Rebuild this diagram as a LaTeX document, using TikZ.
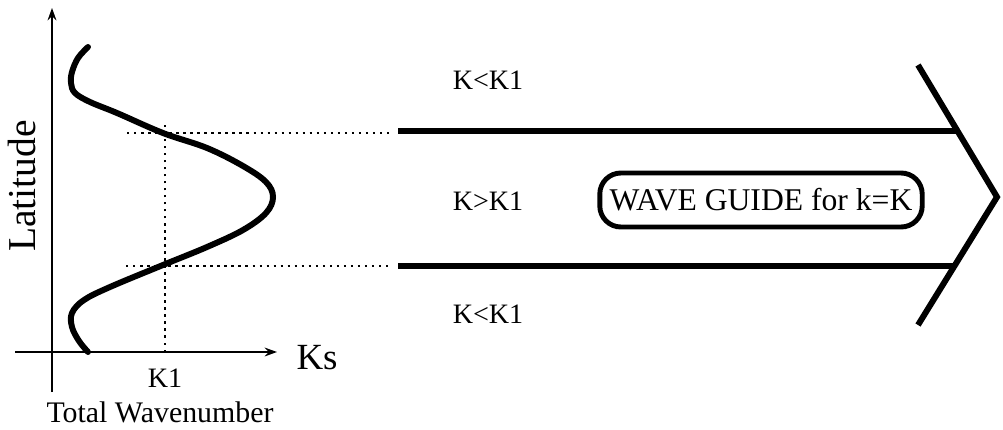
\documentclass[tikz,border=0pt]{standalone}
\usepackage{fontspec}
\setmainfont{Liberation Serif}
\usetikzlibrary{arrows.meta}

\begin{document}
\begin{tikzpicture}[x=0.02cm, y=-0.02cm,
        axis/.style={line width=1.1pt, -{Stealth[length=7pt, width=5pt]}},
        dotline/.style={line width=1.4pt, dash pattern=on 1.4pt off 2.6pt},
        wall/.style={line width=3.4pt},
        lbl/.style={inner sep=0pt, font=\fontsize{16}{19}\selectfont},
        guidebox/.style={draw, line width=2.8pt, rounded corners=12pt, minimum width=6.45cm, minimum height=1.08cm, inner sep=2pt, font=\fontsize{18}{21}\selectfont}]
      \useasboundingbox (0,0) rectangle (1003,429);
      % Axes
      \coordinate (ybot) at (52,392);
      \coordinate (ytop) at (52,8);
      \coordinate (xleft) at (15,352);
      \coordinate (xright) at (277,352);
      \draw[axis] (ybot) -- (ytop);
      \draw[axis] (xleft) -- (xright);
      \node[lbl, font=\fontsize{21}{24}\selectfont] (ks) at (317,358) {Ks};
      \node[lbl] (kone) at (165,378) {K1};
      \node[lbl, font=\fontsize{17}{20}\selectfont] (total) at (160,412) {Total Wavenumber};
      \node[lbl, font=\fontsize{22.5}{26}\selectfont, rotate=90] (lat) at (22,186) {Latitude};
      
      % Ks profile
      \draw[line width=3.4pt, line cap=round] plot[smooth, tension=0.6] coordinates {
        (88,47) (78,58) (72,72) (71,83) (75,93) (90,102) (117,113) (163,133)
        (207,148) (243,166) (266,182) (273,197) (266,213) (243,230) (207,247)
        (163,265) (110,287) (84,300) (72,313) (72,327) (79,341) (88,352)};
      
      % Turning latitudes
      \coordinate (kfoot) at (165,352);
      \coordinate (khead) at (165,122);
      \coordinate (nstart) at (127,133);
      \coordinate (nend) at (392,133);
      \coordinate (sstart) at (126,266);
      \coordinate (send) at (392,266);
      \draw[dotline] (kfoot) -- (khead);
      \draw[dotline] (nstart) -- (nend);
      \draw[dotline] (sstart) -- (send);
      
      % Wave guide
      \coordinate (chtop) at (918,65);
      \coordinate (chtip) at (997,197);
      \coordinate (chbot) at (918,325);
      \coordinate (nwall) at (398,131);
      \coordinate (swall) at (398,266);
      \coordinate (nhit) at (957,131);
      \coordinate (shit) at (955,266);
      \draw[wall] (nwall) -- (nhit);
      \draw[wall] (swall) -- (shit);
      \draw[wall] (chtop) -- (chtip) -- (chbot);
      
      \node[lbl] (north) at (488,80) {K<K1};
      \node[lbl] (mid) at (488,201) {K>K1};
      \node[lbl] (south) at (488,314) {K<K1};
      \node[guidebox] (wg) at (761,200) {WAVE GUIDE for k=K};
    \end{tikzpicture}
\end{document}
